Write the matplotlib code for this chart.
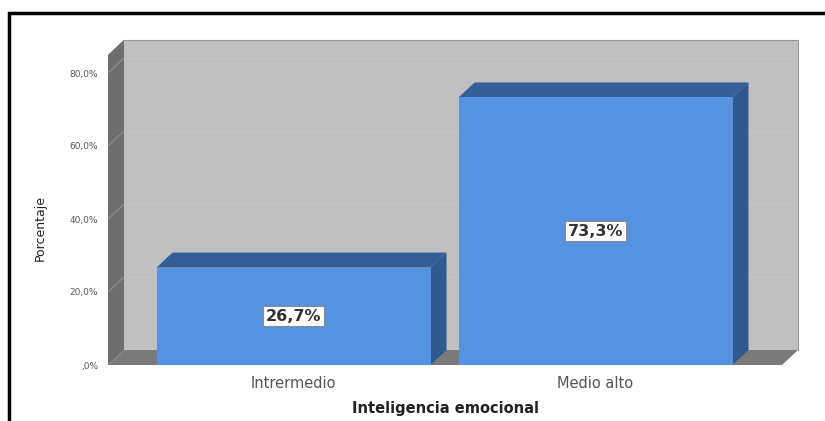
import matplotlib.pyplot as plt
from matplotlib.patches import Polygon, Rectangle

# Datos del gráfico
categorias = ['Intrermedio', 'Medio alto']
porcentajes = [26.7, 73.3]
etiquetas = ['26,7%', '73,3%']
ticks_y = [0, 20, 40, 60, 80]
ticks_y_txt = [',0%', '20,0%', '40,0%', '60,0%', '80,0%']

W, H = 825, 421
fig = plt.figure(figsize=(W / 100, H / 100), dpi=100)
fig.patch.set_facecolor('white')

# plano frontal del eje, en pixeles
px_left, px_right, px_bottom = 108, 782, 365
px_per_pct = 3.65
ymax = 85
px_cat = 302.0
xmin = -(293.5 - px_left) / px_cat
xmax = xmin + (px_right - px_left) / px_cat
ax = fig.add_axes([px_left / W, (H - px_bottom) / H,
                   (px_right - px_left) / W, ymax * px_per_pct / H])
ax.set_xlim(xmin, xmax)
ax.set_ylim(0, ymax)
for s in ax.spines.values():
    s.set_visible(False)
ax.set_facecolor('none')

# profundidad 3D en unidades de datos
dx = 16 / px_cat
dy = 15 / px_per_pct

def poly(pts, color, z=1):
    ax.add_patch(Polygon(pts, closed=True, facecolor=color, edgecolor='none',
                         clip_on=False, zorder=z))

# pared del fondo, pared izquierda y piso
poly([(xmin + dx, dy), (xmax + dx, dy), (xmax + dx, ymax + dy), (xmin + dx, ymax + dy)], '#c0c0c0', 0)
poly([(xmin, 0), (xmin + dx, dy), (xmin + dx, ymax + dy), (xmin, ymax)], '#6e6e6e', 1)
poly([(xmin, 0), (xmax, 0), (xmax + dx, dy), (xmin + dx, dy)], '#7a7a7a', 1)
ax.plot([xmin + dx, xmax + dx, xmax + dx], [ymax + dy, ymax + dy, dy], color='#999999',
        lw=0.8, clip_on=False, zorder=1)
for t in ticks_y[1:]:
    ax.plot([xmin, xmin + dx], [t, t + dy], color='#9a9a9a', lw=0.6, clip_on=False, zorder=1.5)
    ax.plot([xmin + dx, xmax + dx], [t + dy, t + dy], color='#c6c6c6', lw=0.6, clip_on=False, zorder=0.5)

# barras 3D
ancho = 274 / px_cat
for i, v in enumerate(porcentajes):
    x0, x1 = i - ancho / 2, i + ancho / 2
    poly([(x0, v), (x1, v), (x1 + dx, v + dy), (x0 + dx, v + dy)], '#355f98', 2)
    poly([(x1, 0), (x1 + dx, dy), (x1 + dx, v + dy), (x1, v)], '#2f5a90', 2)
    ax.bar(i, v, width=ancho, color='#5592e0', edgecolor='none', zorder=3)
    ax.text(i, v / 2, etiquetas[i], ha='center', va='center', fontsize=11.5,
            fontweight='bold', color='#333333', zorder=4,
            bbox=dict(boxstyle='square,pad=0.15', facecolor='white', edgecolor='#8a8a8a', lw=0.8))

ax.set_xticks(range(len(categorias)))
ax.set_xticklabels(categorias, fontsize=10.5, color='#555555')
ax.set_yticks(ticks_y)
ax.set_yticklabels(ticks_y_txt, fontsize=6.5, color='#555555')
ax.tick_params(axis='x', length=0, pad=8)
ax.tick_params(axis='y', length=0, pad=7)

fig.text(445 / W, 1 - 409 / H, 'Inteligencia emocional', ha='center', va='center',
         fontsize=10.5, fontweight='bold', color='#222222')
fig.text(40 / W, 1 - 228 / H, 'Porcentaje', ha='center', va='center', rotation=90,
         fontsize=9, color='#222222')

# marco negro
fig.patches.append(Rectangle((9 / W, -0.1), 1.2, 1.1 - 13 / H, transform=fig.transFigure,
                             fill=False, edgecolor='black', lw=2.5, figure=fig))

fig.savefig('out.png', dpi=100)
